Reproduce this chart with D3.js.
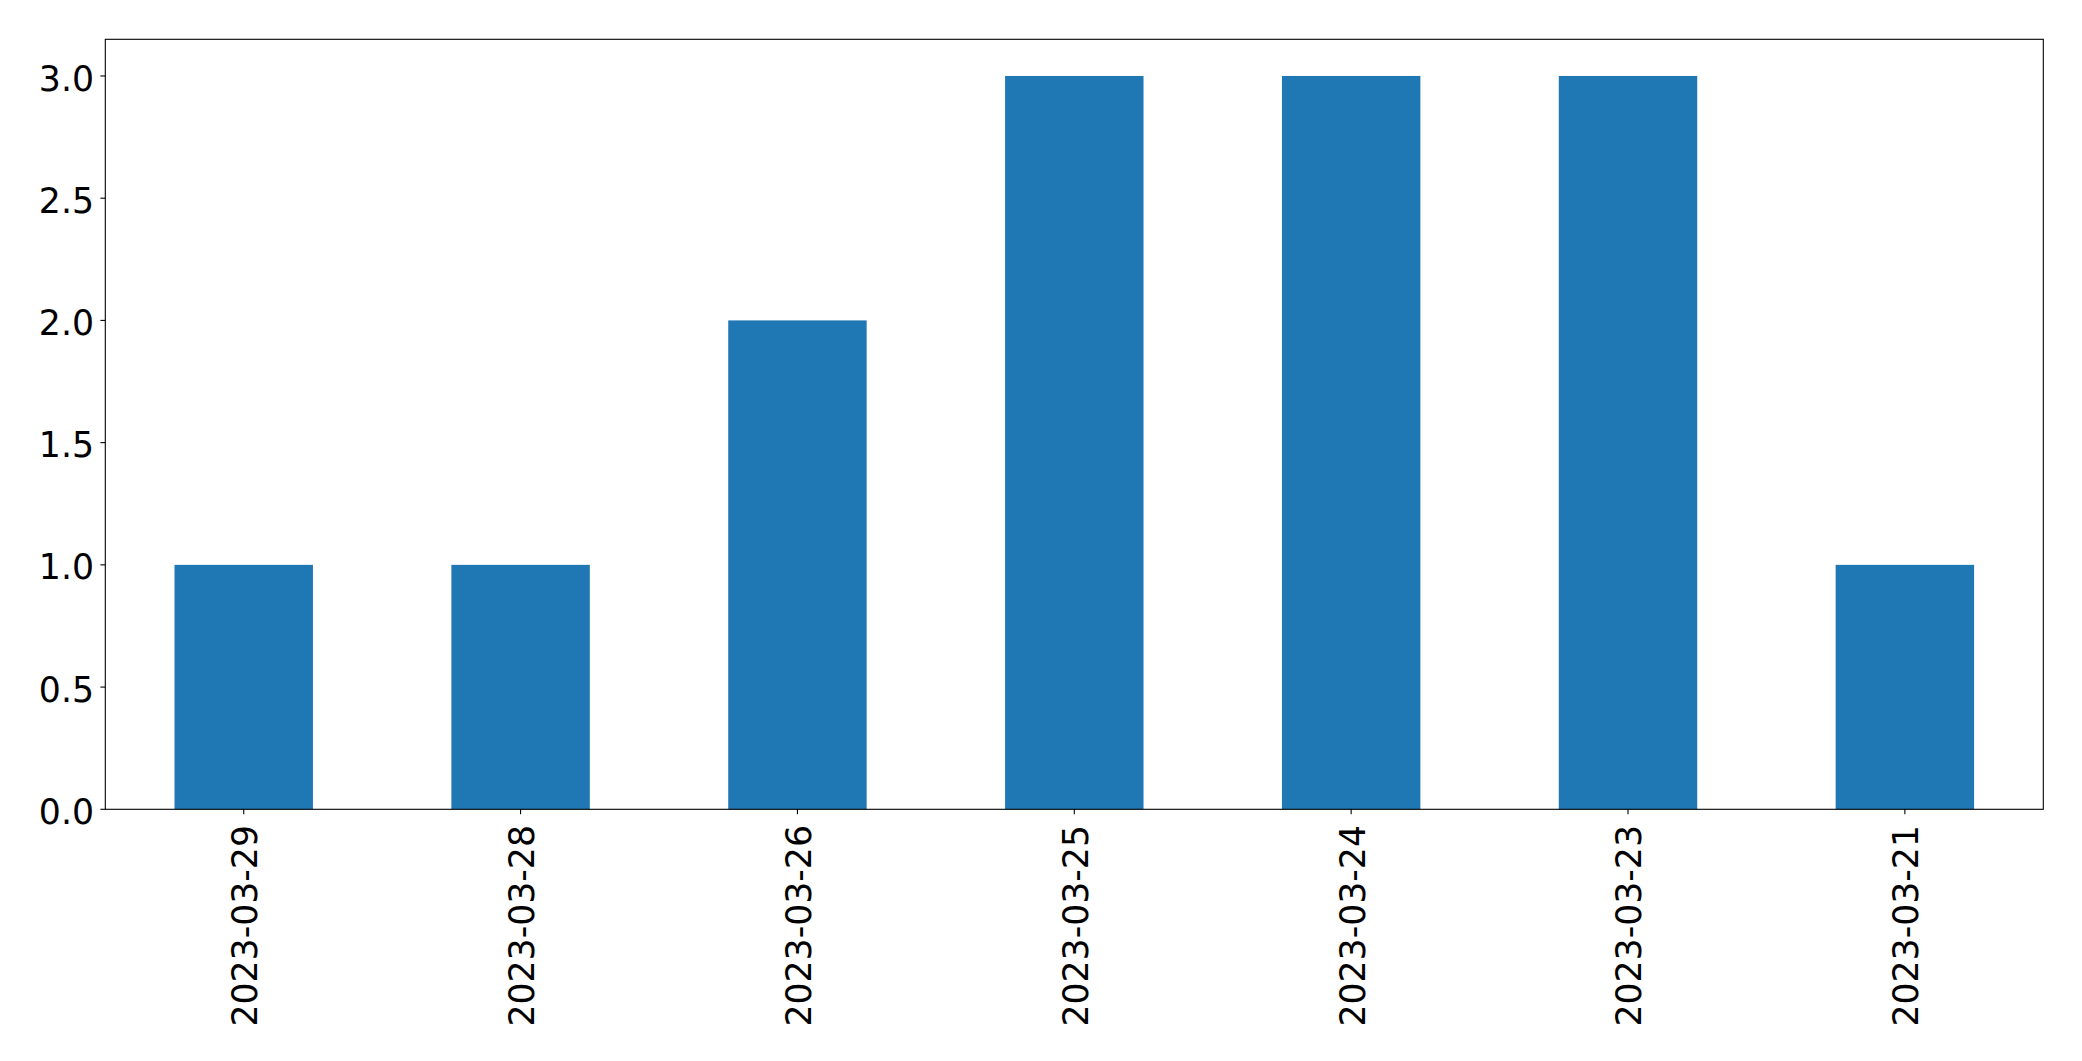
<!DOCTYPE html>
<html>
<head>
<meta charset="utf-8">
<script src="https://d3js.org/d3.v7.min.js"></script>
<style>
  html, body { margin: 0; padding: 0; background: #fff; }
  svg { display: block; }
  text { font-family: "DejaVu Sans", sans-serif; fill: #000; }
</style>
</head>
<body>
<script>
const categories = ["2023-03-29", "2023-03-28", "2023-03-26", "2023-03-25", "2023-03-24", "2023-03-23", "2023-03-21"];
const values = [1, 1, 2, 3, 3, 3, 1];
const yTicks = [0, 0.5, 1.0, 1.5, 2.0, 2.5, 3.0];

const W = 2082, H = 1061;
const plotLeft = 105.3, plotRight = 2043.3, plotTop = 39.3, plotBottom = 809.3;
const fontSize = 34.7;
const tickLen = 4.9;

const svg = d3.select("body").append("svg").attr("width", W).attr("height", H);

const x = d3.scaleBand().domain(categories).range([plotLeft, plotRight]).paddingInner(0.5).paddingOuter(0.25);
const y = d3.scaleLinear().domain([0, d3.max(values) * 1.05]).range([plotBottom, plotTop]);

// bars
svg.append("g").selectAll("rect").data(categories).join("rect")
  .attr("x", d => x(d))
  .attr("width", x.bandwidth())
  .attr("y", (d, i) => y(values[i]))
  .attr("height", (d, i) => y(0) - y(values[i]))
  .attr("fill", "#1f77b4");

// y axis ticks and labels
const yg = svg.append("g");
yg.selectAll("line").data(yTicks).join("line")
  .attr("x1", plotLeft - tickLen).attr("x2", plotLeft)
  .attr("y1", d => y(d)).attr("y2", d => y(d))
  .attr("stroke", "#000").attr("stroke-width", 1.1);
yg.selectAll("text").data(yTicks).join("text")
  .attr("x", 94)
  .attr("y", d => y(d) + 14.6)
  .attr("text-anchor", "end")
  .attr("font-size", fontSize)
  .text(d => d3.format(".1f")(d));

// x axis ticks and labels
const xg = svg.append("g");
xg.selectAll("line").data(categories).join("line")
  .attr("x1", d => x(d) + x.bandwidth() / 2).attr("x2", d => x(d) + x.bandwidth() / 2)
  .attr("y1", plotBottom).attr("y2", plotBottom + tickLen)
  .attr("stroke", "#000").attr("stroke-width", 1.1);
xg.selectAll("text").data(categories).join("text")
  .attr("transform", d => `translate(${x(d) + x.bandwidth() / 2 + 13.4},${825}) rotate(-90)`)
  .attr("text-anchor", "end")
  .attr("font-size", fontSize)
  .text(d => d);

// frame
svg.append("rect")
  .attr("x", plotLeft).attr("y", plotTop)
  .attr("width", plotRight - plotLeft).attr("height", plotBottom - plotTop)
  .attr("fill", "none").attr("stroke", "#000").attr("stroke-width", 1.1);
</script>
</body>
</html>
